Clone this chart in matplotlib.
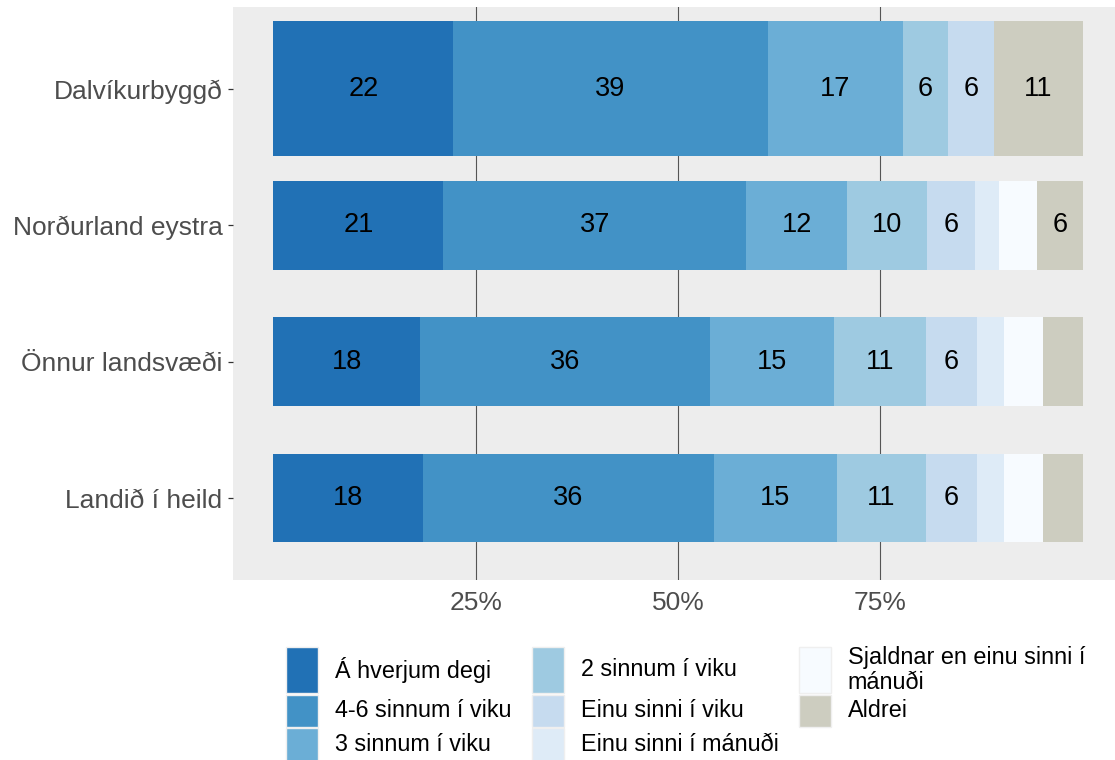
import matplotlib
matplotlib.use("Agg")
import matplotlib.pyplot as plt
from matplotlib.patches import Rectangle

plt.rcParams["font.family"] = ["Liberation Sans", "DejaVu Sans"]

# ---- Data (percent of answers per region) ----
regions = ["Dalvíkurbyggð", "Norðurland eystra", "Önnur landsvæði", "Landið í heild"]
answers = ["Á hverjum degi", "4-6 sinnum í viku", "3 sinnum í viku", "2 sinnum í viku",
           "Einu sinni í viku", "Einu sinni í mánuði",
           "Sjaldnar en einu sinni í\nmánuði", "Aldrei"]
colors = ["#2171B5", "#4292C6", "#6BAED6", "#9ECAE1",
          "#C6DBEF", "#DEEBF7", "#F7FBFF", "#CDCDC0"]

dalvik = [22.2, 38.9, 16.7, 5.6, 5.6, 0.0, 0.0, 11.1]
nordurland = [21.0, 37.4, 12.5, 9.9, 5.9, 3.0, 4.7, 5.6]
onnur = [18.1, 35.9, 15.3, 11.4, 6.2, 3.4, 4.8, 4.9]
landid = [18.5, 35.9, 15.2, 11.1, 6.2, 3.4, 4.8, 4.9]
bar_heights = [0.99, 0.65, 0.65, 0.65]

series = [dalvik, nordurland, onnur, landid]

# ---- Figure ----
W, H = 1115, 760
fig = plt.figure(figsize=(W / 100, H / 100), dpi=100)
ax = fig.add_axes([233 / W, (H - 580) / H, (W - 233) / W, (580 - 7) / H])
ax.set_facecolor("#EDEDED")

ypos = list(range(len(regions)))[::-1]
for y, vals, h in zip(ypos, series, bar_heights):
    left = 0.0
    for v, c in zip(vals, colors):
        if v > 0:
            ax.barh(y, v, left=left, height=h, color=c, linewidth=0)
            if v >= 5.5:
                ax.text(left + v / 2, y, f"{round(v)}", ha="center", va="center",
                        fontsize=19.5, color="black")
        left += v

ax.set_xlim(-5, 104.0)
ax.set_ylim(-0.6, 3.6)
ax.set_xticks([25, 50, 75])
ax.set_xticklabels(["25%", "50%", "75%"])
ax.set_yticks(ypos)
ax.set_yticklabels(regions)
ax.xaxis.grid(True, color="#555555", linewidth=0.8)
ax.set_axisbelow(True)
for s in ax.spines.values():
    s.set_visible(False)
ax.tick_params(axis="x", length=0, pad=8, labelsize=19, labelcolor="#4D4D4D")
ax.tick_params(axis="y", length=3.5, width=0.9, color="#333333", pad=4,
               labelsize=19, labelcolor="#4D4D4D")

# ---- Legend (3 columns, filled column-wise) ----
def fx(x):
    return x / W

def fy(y):
    return 1 - y / H

row_tops = [647, 694.5, 728]
row_h = [46, 32.5, 32.5]
col_x = [286, 532, 798.5]
key_w = 32
for i, (lab, c) in enumerate(zip(answers, colors)):
    col, row = i // 3, i % 3
    x0 = col_x[col]
    top = row_tops[row]
    h = row_h[row]
    fig.add_artist(Rectangle((fx(x0), fy(top + h)), key_w / W, h / H,
                             transform=fig.transFigure, facecolor=c,
                             edgecolor="#EFEFEF", linewidth=1))
    fig.text(fx(x0 + 49), fy(top + h / 2), lab, ha="left", va="center",
             fontsize=16.8, color="black", linespacing=1.15)

fig.savefig("out.png", dpi=100)
